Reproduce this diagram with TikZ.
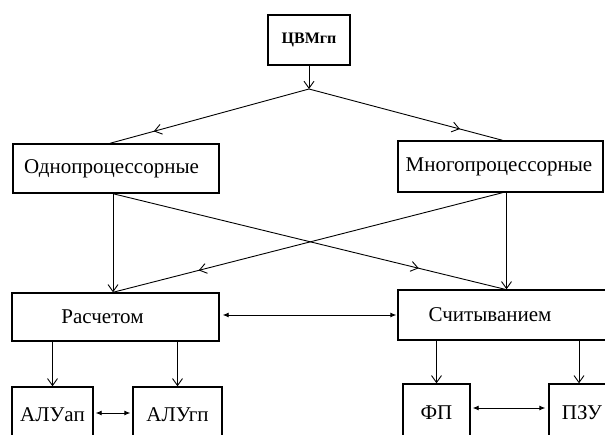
\documentclass[tikz,border=0pt]{standalone}
\usepackage{fontspec}
\setmainfont{Liberation Serif}
\usetikzlibrary{arrows.meta,decorations.markings,calc}
\tikzset{
  box/.style={draw, line width=1.4pt, inner sep=0pt, font=\fontsize{21}{24}\selectfont},
  conn/.style={line width=0.9pt},
  downarr/.style={conn, -{Straight Barb[length=7pt,width=10pt,line width=0.9pt]}},
  dblarr/.style={conn, {Latex[length=6pt,width=5pt]}-{Latex[length=6pt,width=5pt]}},
  midarr/.style={conn, postaction={decorate}, decoration={markings,
     mark=at position 0.78 with {\arrow{Straight Barb[length=7pt,width=10pt,line width=0.9pt]}}}}
}
\begin{document}
\begin{tikzpicture}[x=1pt,y=-1pt]
\useasboundingbox (0,0) rectangle (605,435);
\node[box, minimum width=82pt, minimum height=50pt, font=\fontsize{16}{18}\selectfont\bfseries] (top) at (309,40) {ЦВМгп};
\node[box, minimum width=206pt, minimum height=49pt] (odno) at (116,168.5) {Однопроцессорные\hspace*{9pt}};
\node[box, minimum width=205pt, minimum height=51pt] (mnogo) at (500.5,166.5) {Многопроцессорные\hspace*{3pt}};
\node[box, minimum width=207pt, minimum height=48pt] (rasch) at (115.5,317) {Расчетом\hspace*{26pt}};
\node[box, minimum width=240pt, minimum height=50pt] (schit) at (518,315) {Считыванием\hspace*{56pt}};
\node[box, minimum width=67pt, minimum height=58pt] (fp) at (436.5,413) {ФП};
\node[box, minimum width=90pt, minimum height=58pt] (pzu) at (594,413) {ПЗУ\hspace*{24pt}};
\node[box, minimum width=81pt, minimum height=56pt] (aluap) at (52.5,415) {АЛУап};
\node[box, minimum width=89pt, minimum height=56pt] (alugp) at (177.5,415) {АЛУгп};
\coordinate (j) at (309,89);
\draw[downarr] (top.south) -- (j);
\draw[midarr] (j) -- ([xshift=-6pt]odno.north);
\draw[midarr] (j) -- ([xshift=2pt]mnogo.north);
\draw[downarr] ([xshift=-3pt]odno.south) -- ([xshift=-3pt]odno.south |- rasch.north);
\draw[midarr] ([xshift=-3pt]odno.south) -- ([xshift=-13pt]schit.north);
\draw[midarr] ([xshift=2pt]mnogo.south) -- ([xshift=-3pt]odno.south |- rasch.north);
\draw[downarr] ([xshift=6pt]mnogo.south) -- ([xshift=6pt]mnogo.south |- schit.north);
\draw[dblarr, shorten <=3pt, shorten >=1pt] (rasch.east |- 0,315) -- (schit.west |- 0,315);
\draw[downarr] (rasch.south -| aluap) -- (aluap.north);
\draw[downarr] (rasch.south -| alugp) -- (alugp.north);
\draw[downarr] (schit.south -| fp) -- (fp.north);
\draw[downarr] ([xshift=-15pt]schit.south -| pzu) -- ([xshift=-15pt]pzu.north);
\draw[dblarr, shorten <=2pt, shorten >=3pt] (fp.east |- 0,408) -- (pzu.west |- 0,408);
\draw[dblarr, shorten <=2pt, shorten >=2pt] (aluap.east |- 0,413) -- (alugp.west |- 0,413);
\end{tikzpicture}
\end{document}
